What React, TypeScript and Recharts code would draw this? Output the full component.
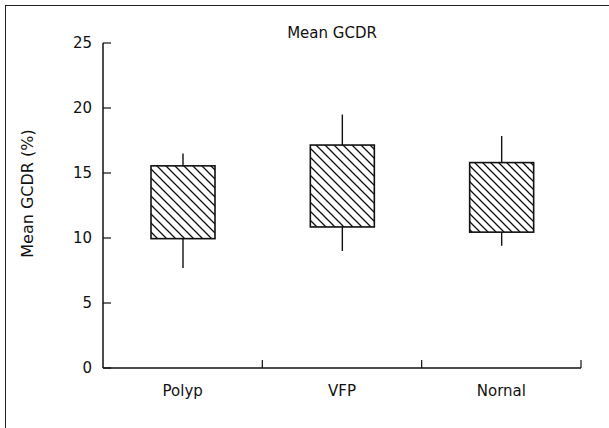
import { Bar, Cell, ComposedChart, XAxis, YAxis } from "recharts";

const categories = ["Polyp", "VFP", "Nornal"];
const whiskerLow = [7.7, 9.0, 9.4];
const boxLow = [9.95, 10.85, 10.45];
const boxHigh = [15.55, 17.15, 15.8];
const whiskerHigh = [16.5, 19.5, 17.85];
const yTicks = [0, 5, 10, 15, 20, 25];

const hatchSpacing = [9, 9, 8];
const fontFamily = "'DejaVu Sans', sans-serif";

// stacked segments: invisible base, lower whisker, box, upper whisker
const data = categories.map((name, i) => ({
  name,
  base: whiskerLow[i],
  lowerWhisker: boxLow[i] - whiskerLow[i],
  box: boxHigh[i] - boxLow[i],
  upperWhisker: whiskerHigh[i] - boxHigh[i]
}));

function WhiskerShape(props: any) {
  const { x, y, width, height } = props;
  const cx = x + width / 2;
  return <line x1={cx} x2={cx} y1={y} y2={y + height} stroke="#111" strokeWidth={1.4} />;
}

function BoxShape(props: any) {
  const { x, y, width, height, fill } = props;
  return <rect x={x} y={y} width={width} height={height} fill={fill} stroke="#111" strokeWidth={1.6} />;
}

function XTick(props: any) {
  const { x, y, payload } = props;
  const edge = x + (payload.offset ?? 0);
  return (
    <g>
      <line x1={edge} x2={edge} y1={y} y2={y - 8} stroke="#111" strokeWidth={1.2} />
      <text x={x} y={y + 28} textAnchor="middle" fontSize={15} fontFamily={fontFamily} fill="#111">
        {payload.value}
      </text>
    </g>
  );
}

function YTick(props: any) {
  const { x, y, payload } = props;
  return (
    <g>
      <line x1={x} x2={x + 8} y1={y} y2={y} stroke="#111" strokeWidth={1.2} />
      <text x={x - 11} y={y + 5} textAnchor="end" fontSize={15} fontFamily={fontFamily} fill="#111">
        {payload.value}
      </text>
    </g>
  );
}

function YLabel(props: any) {
  const { viewBox } = props;
  const cx = 33;
  const cy = viewBox.y + viewBox.height / 2 - 12;
  return (
    <text
      x={cx}
      y={cy}
      transform={`rotate(-90, ${cx}, ${cy})`}
      textAnchor="middle"
      fontSize={16}
      fontFamily={fontFamily}
      fill="#111"
    >
      Mean GCDR (%)
    </text>
  );
}

export default function App() {
  return (
    <div style={{ position: "absolute", left: 0, top: 0, width: 609, height: 428, background: "#fff" }}>
      <div
        style={{
          position: "absolute",
          left: 5,
          top: 5,
          right: 0,
          bottom: 0,
          borderLeft: "1.5px solid #222",
          borderTop: "1.5px solid #222"
        }}
      />
      <div
        style={{
          position: "absolute",
          left: 232,
          width: 200,
          top: 24,
          textAlign: "center",
          fontFamily,
          fontSize: 15,
          color: "#111"
        }}
      >
        Mean GCDR
      </div>
      <ComposedChart
        width={609}
        height={428}
        data={data}
        margin={{ top: 43, right: 28, bottom: 0, left: 0 }}
        barCategoryGap={0}
      >
        <defs>
          {hatchSpacing.map((w, i) => (
            <pattern key={i} id={`hatch-${i}`} patternUnits="userSpaceOnUse" width={w} height={w}>
              <path
                d={`M0,0 L${w},${w} M${-2},${w - 2} L2,${w + 2} M${w - 2},-2 L${w + 2},2`}
                stroke="#111"
                strokeWidth={1.3}
              />
            </pattern>
          ))}
        </defs>
        <XAxis
          dataKey="name"
          height={60}
          axisLine={{ stroke: "#111", strokeWidth: 1.5 }}
          tickLine={false}
          tickSize={0}
          tickMargin={0}
          tick={<XTick />}
          interval={0}
        />
        <YAxis
          width={103}
          domain={[0, 25]}
          ticks={yTicks}
          axisLine={{ stroke: "#111", strokeWidth: 1.5 }}
          tickLine={false}
          tickSize={0}
          tickMargin={0}
          tick={<YTick />}
          label={<YLabel />}
        />
        <Bar dataKey="base" stackId="s" fill="transparent" barSize={64} isAnimationActive={false} />
        <Bar dataKey="lowerWhisker" stackId="s" barSize={64} shape={<WhiskerShape />} isAnimationActive={false} />
        <Bar dataKey="box" stackId="s" barSize={64} shape={<BoxShape />} isAnimationActive={false}>
          {data.map((d, i) => (
            <Cell key={d.name} fill={`url(#hatch-${i})`} />
          ))}
        </Bar>
        <Bar dataKey="upperWhisker" stackId="s" barSize={64} shape={<WhiskerShape />} isAnimationActive={false} />
      </ComposedChart>
    </div>
  );
}
